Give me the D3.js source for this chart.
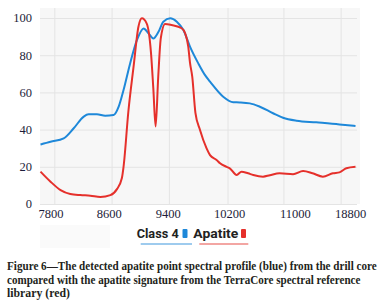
<!DOCTYPE html>
<html><head><meta charset="utf-8">
<script src="https://cdn.jsdelivr.net/npm/d3@7"></script>
<style>body{margin:0;background:#fff}svg{display:block}</style>
</head><body>
<svg id="c" width="388" height="308"></svg>
<script>
// band index positions (x) and reflectance values (y)
const classX = [0,3.5,8.1,11.6,15.1,16.8,19.7,22.6,25.5,27.3,29.0,31.3,33.7,36.0,37.7,39.4,41.2,42.9,45.3,47.6,49.9,52.2,55.1,57.4,59.2,63.8,67.3,69.6,73.1,76.6,81.2,84.7,89.4,96.3,104.4,110];
const classY = [32,33.5,35.3,40.7,47,48.2,48.2,47.5,47.8,52.3,61.3,75.6,88.2,94.4,91.8,89,92.6,98,99.8,98,93.5,84.6,75.6,69.4,65.8,57.7,54.7,54.6,54.1,52.3,48.8,46.4,44.8,43.9,42.8,41.9];
const apatiteX = [0,3.5,7.0,10.4,13.9,17.4,20.9,24.4,26.7,28.4,29.0,30.7,32.5,34.2,35.4,37.1,38.6,39.4,40.2,41.1,42.0,43.5,45.8,49.3,50.5,51.6,52.2,53.0,54.1,55.7,58.0,59.2,61.5,62.7,65.0,66.1,68.5,70.2,72.5,74.3,77.7,80.1,83.5,88.2,91.7,95,98.6,102.1,104.4,106.8,110];
const apatiteY = [17.4,12,7.5,5.4,4.8,4.5,3.8,4.8,8,13.8,20,50,73.8,95.3,99.8,97,81,62,41.6,68,89,96.8,96.2,94.5,91.8,84.6,76,68.4,49,39.8,29.9,26.3,23.7,21.9,20,19.2,15.6,17.4,16.5,15.6,14.7,15.5,16.5,16,17.7,16.5,14.7,16.5,17,19.2,20];
const gridIdx = [5,25,45,65.5,85,105];
const labelIdx = [3.7,24,44.6,66,89,108.3];
const tickLabels = ["7800","8600","9400","10200","11000","18800"];
const yTicks = [0,20,40,60,80,100];
const seriesNames = ["Class 4","Apatite"];
const seriesColors = ["#1e88d9","#e5302b"];
const caption = ["Figure 6\u2014The detected apatite point spectral profile (blue) from the drill core",
  "compared with the apatite signature from the TerraCore spectral reference",
  "library (red)"];

const svg = d3.select("#c");
const x = d3.scaleLinear().domain([0,110]).range([40.5,355.5]);
const y = d3.scaleLinear().domain([0,100]).range([204,18]);

svg.append("rect").attr("x",40).attr("y",8).attr("width",320).attr("height",196).attr("fill","#f7f7f7");
svg.append("rect").attr("x",40).attr("y",225).attr("width",70).attr("height",23).attr("fill","#fafafa");

const g = svg.append("g");
g.selectAll(".hg").data(yTicks).join("line")
  .attr("x1",40).attr("x2",357).attr("y1",d=>y(d)+0.5).attr("y2",d=>y(d)+0.5)
  .attr("stroke","#e4e4e4").attr("stroke-width",1);
g.selectAll(".vg").data(gridIdx).join("line")
  .attr("x1",d=>x(d)).attr("x2",d=>x(d)).attr("y1",8).attr("y2",204)
  .attr("stroke","#e4e4e4").attr("stroke-width",1);

svg.selectAll(".yl").data(yTicks).join("text")
  .attr("x",32).attr("y",d=>y(d)).attr("dy","0.35em").attr("text-anchor","end")
  .attr("font-family","Liberation Serif, serif").attr("font-size",12.5).attr("fill","#1d1d3a")
  .text(d=>d);
svg.selectAll(".xl").data(labelIdx).join("text")
  .attr("x",d=>x(d)).attr("y",218).attr("text-anchor","middle")
  .attr("font-family","Liberation Serif, serif").attr("font-size",12.5).attr("fill","#1d1d3a")
  .text((d,i)=>tickLabels[i]);

const line = d3.line().x(d=>x(d[0])).y(d=>y(d[1])).curve(d3.curveMonotoneX);
const series = [d3.zip(classX,classY), d3.zip(apatiteX,apatiteY)];
svg.selectAll(".ln").data(series).join("path")
  .attr("d",line).attr("fill","none").attr("stroke",(d,i)=>seriesColors[i])
  .attr("stroke-width",2).attr("stroke-linejoin","round");

// legend
const leg = [{x:136.7,w:42,rx:182.5,ux1:140.7,ux2:192},{x:193.3,w:45,rx:241,ux1:199.3,ux2:248.3}];
leg.forEach((l,i)=>{
  svg.append("text").attr("x",l.x).attr("y",238).attr("font-family","Roboto, sans-serif")
    .attr("font-weight",700).attr("font-size",13.5).attr("fill","#222")
    .attr("textLength",l.w).attr("lengthAdjust","spacingAndGlyphs").text(seriesNames[i]);
  svg.append("rect").attr("x",l.rx).attr("y",229).attr("width",5).attr("height",9).attr("rx",1).attr("fill",seriesColors[i]);
  svg.append("line").attr("x1",l.ux1).attr("x2",l.ux2).attr("y1",244).attr("y2",244)
    .attr("stroke",seriesColors[i]).attr("stroke-width",1.2).attr("opacity",0.85);
});

const cw = [370,354,63];
svg.selectAll(".cap").data(caption).join("text")
  .attr("font-family","Liberation Serif, serif").attr("font-weight",700).attr("font-size",12.5)
  .attr("fill","#231f20")
  .text(d=>d)
  .each(function(d,i){
    const nat = this.getComputedTextLength();
    const s = cw[i]/nat;
    d3.select(this).attr("transform",`translate(7,${270+i*13.6}) scale(${s},1)`);
  });
</script>
</body></html>
